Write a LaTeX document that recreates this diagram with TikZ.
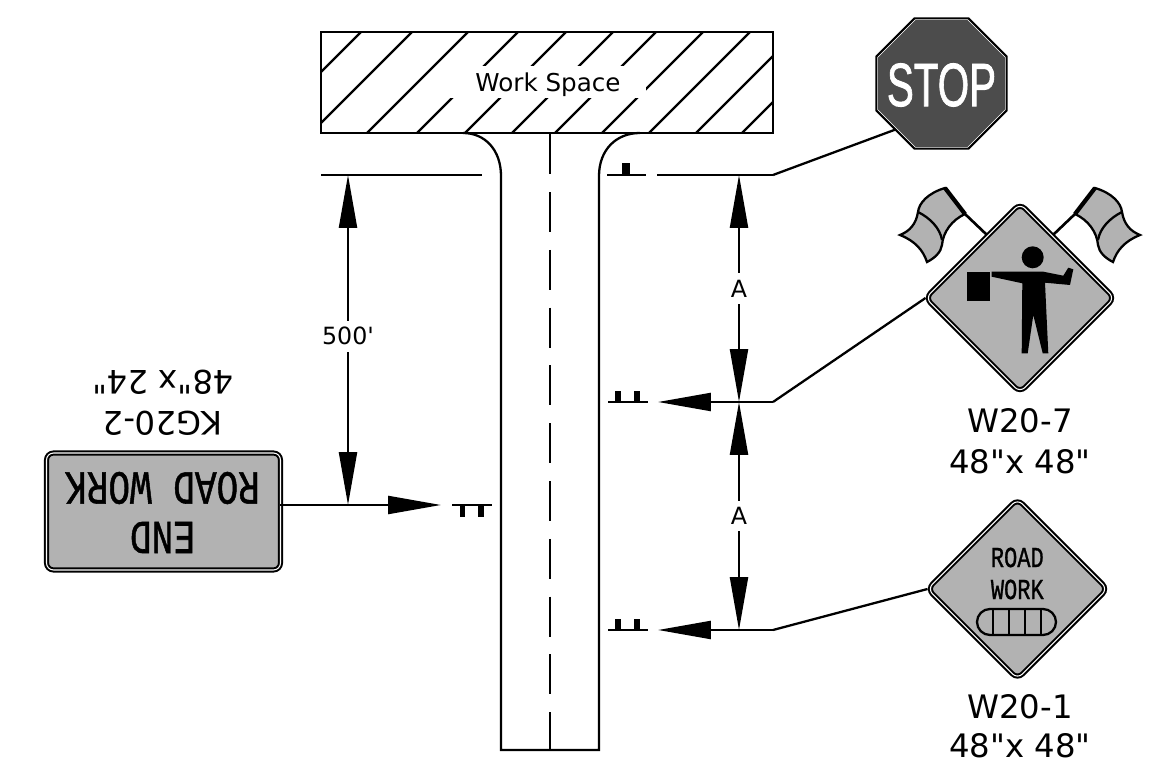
\documentclass[tikz,border=0pt]{standalone}
\usepackage{fontspec}
\setmainfont{DejaVu Sans}[Ligatures=TeXOff]
\newfontfamily\signfont{Liberation Mono}[FakeBold=1.2]
\newfontfamily\stopfont{Liberation Sans}[FakeBold=1.5]
\usetikzlibrary{arrows.meta,shapes.geometric}
\tikzset{
	line/.style={line width=1.3pt},
	dim/.style={line, {Triangle[length=1.06cm,width=.36cm]}-{Triangle[length=1.06cm,width=.36cm]}},
	ahead/.style={line, -{Triangle[length=1.06cm,width=.36cm]}},
	lettering/.style={fill=white, font=\fontsize{13.5}{15}\selectfont, inner sep=0pt, minimum width=.6cm, minimum height=.62cm},
	caption/.style={font=\fontsize{18.4}{20}\selectfont, inner sep=0pt},
	signface/.style={draw, fill=black!30, line width=1.15pt, double=white, double distance=.6pt, inner sep=0pt, outer sep=0pt},
	diamondsign/.style={signface, diamond, aspect=1, rounded corners=.14cm},
	post/.style={fill=black},
}
\newcommand{\signtext}[1]{\scalebox{.76}[1]{\signfont #1}}
\begin{document}
\begin{tikzpicture}[x=.02cm,y=-.02cm,line]
	\useasboundingbox (0,0) rectangle (1174,783);
	% work space
	\begin{scope}
		\clip (321,32) rectangle (773,133);
		\foreach \s in {393,444,500,550,598,645,688,735,782,829,875} {
			\draw (\s-32,32) -- (\s-133,133);
		}
	\end{scope}
	\node[draw=none, fill=white, inner sep=0pt, minimum width=3.92cm, text height=.52cm, text depth=.12cm, font=\fontsize{14}{16}\selectfont] (workspace) at (548,82) {Work Space};
	\draw[line width=1.5pt] (321,32) rectangle (773,133);
	% road
	\coordinate (RL) at (501,750);
	\coordinate (RR) at (599,750);
	\coordinate (CT) at (550,134.3);
	\coordinate (CB) at (550,750);
	\draw (463,133) .. controls (485,133) and (501,150) .. (501,176) -- (RL) -- (RR) -- (599,176) .. controls (599,150) and (616,133) .. (640,133);
	\draw[dash pattern=on .8cm off .356cm] (CT) -- (CB);
	% stop line
	\coordinate (SL) at (321,175);
	\coordinate (SM) at (482,175);
	\coordinate (P) at (657,175);
	\coordinate (Q) at (773,175);
	\coordinate (L2) at (348,175);
	\coordinate (L3) at (348,505);
	\coordinate (A1) at (739,175);
	\coordinate (A2) at (739,402);
	\coordinate (A3) at (739,630);
	\draw (SL) -- (SM);
	\draw (607,175) -- (646,175);
	\fill[post] (622,163) rectangle (630,175);
	\draw (P) -- (Q);
	% sign symbols
	\foreach \y in {402,630} {
		\draw (608,\y) -- (648,\y);
		\fill[post] (615,\y-11) rectangle (621,\y);
		\fill[post] (634,\y-11) rectangle (640,\y);
	}
	\draw (452,505) -- (492,505);
	\fill[post] (460,505) rectangle (465,517);
	\fill[post] (478,505) rectangle (484,517);
	% dimensions
	\draw[dim] (A1) -- node[lettering] (dimAone) {A} (A2);
	\draw[dim] (A2) -- node[lettering] (dimAtwo) {A} (A3);
	\draw[dim] (L2) -- node[lettering, pos=.488, minimum width=1cm] (dimfive) {500'} (L3);
	% flags
	\foreach \s in {1,-1} {
		\begin{scope}[shift={(1020,0)},xscale=\s]
			\draw[fill=black!30] (-75,188) .. controls (-92,193) and (-101,203) .. (-102,212)
				.. controls (-104,224) and (-110,231) .. (-120,235)
				.. controls (-105,241) and (-97,250) .. (-93,262)
				.. controls (-85,258) and (-79,252) .. (-78,245)
				.. controls (-77,232) and (-68,220) .. (-55,214) -- cycle;
			\draw (-102,212) .. controls (-90,218) and (-80,228) .. (-78,240);
			\draw[line width=2.4pt] (-75,188) -- (-55,214);
			\draw[line width=1.5pt] (-55,214) -- (-33,235);
		\end{scope}
	}
	% signs
	\node[draw, regular polygon, regular polygon sides=8, minimum size=2.82cm, inner sep=0pt, outer sep=0pt, line width=1.2pt, fill=white] (stopsign) at (941.5,83.5) {};
	\node[regular polygon, regular polygon sides=8, minimum size=2.74cm, inner sep=0pt, fill=black!70] (stopface) at (stopsign) {};
	\node[white, inner sep=0pt] (stoptext) at (941.5,85) {\scalebox{.66}[1]{\fontsize{34.8}{36}\stopfont STOP}};
	\node[diamondsign, minimum width=3.78cm, minimum height=3.78cm] (flagsign) at (1020,298) {};
	\fill (1032.7,257.3) circle (11);
	\fill (966.7,271.7) rectangle (990,301);
	\fill (991.7,271.7) -- (1043.3,271.7) -- (1063.3,275.7) -- (1068.3,267.7) -- (1073.3,269.3) -- (1070,285) -- (1045,282.7) -- (1048.3,353.3) -- (1042.7,353.3) -- (1033.3,315) -- (1027.7,353.3) -- (1021.7,353.3) -- (1022.3,283.3) -- (991.7,276.7) -- cycle;
	\node[diamondsign, minimum width=3.6cm, minimum height=3.6cm] (worksign) at (1017.5,589) {};
	\node[inner sep=0pt, font=\fontsize{16.5}{18}\selectfont] (worktop) at (1017.3,557.5) {\signtext{ROAD}};
	\node[inner sep=0pt, font=\fontsize{16.5}{18}\selectfont] (workbottom) at (1017.3,589.5) {\signtext{WORK}};
	\draw[rounded corners=.26cm] (977,609) rectangle (1056,635);
	\foreach \x in {993,1009,1025,1041} {
		\draw (\x,609) -- (\x,635);
	}
	\node[signface, rectangle, rounded corners=.14cm, minimum width=4.68cm, minimum height=2.34cm] (endsign) at (163.5,511.5) {};
	\node[rotate=180, inner sep=0pt, font=\fontsize{27}{29}\selectfont] (endtop) at (162.5,488) {\signtext{ROAD WORK}};
	\node[rotate=180, inner sep=0pt, font=\fontsize{27}{29}\selectfont] (endbottom) at (162.5,537.5) {\signtext{END}};
	% leaders
	\draw (Q) -- (stopsign.225);
	\draw (A2 -| Q) -- (flagsign.west);
	\draw (A3 -| Q) -- (worksign.west);
	\coordinate (T1) at (658,402);
	\coordinate (T2) at (658,630);
	\coordinate (T3) at (441,505);
	\draw[ahead] (A2 -| Q) -- (T1);
	\draw[ahead] (A3 -| Q) -- (T2);
	\draw[ahead] (endsign.east |- L3) -- (T3);
	% captions
	\node[caption] (flagcode) at (1020,421) {W20-7};
	\node[caption] (flagsize) at (1020,462) {48"x 48"};
	\node[caption] (workcode) at (1020,707) {W20-1};
	\node[caption] (worksize) at (1020,746) {48"x 48"};
	\node[caption, rotate=180] (endcode) at (163,423) {KG20-2};
	\node[caption, rotate=180] (endsize) at (163,382) {48"x 24"};
\end{tikzpicture}
\end{document}
